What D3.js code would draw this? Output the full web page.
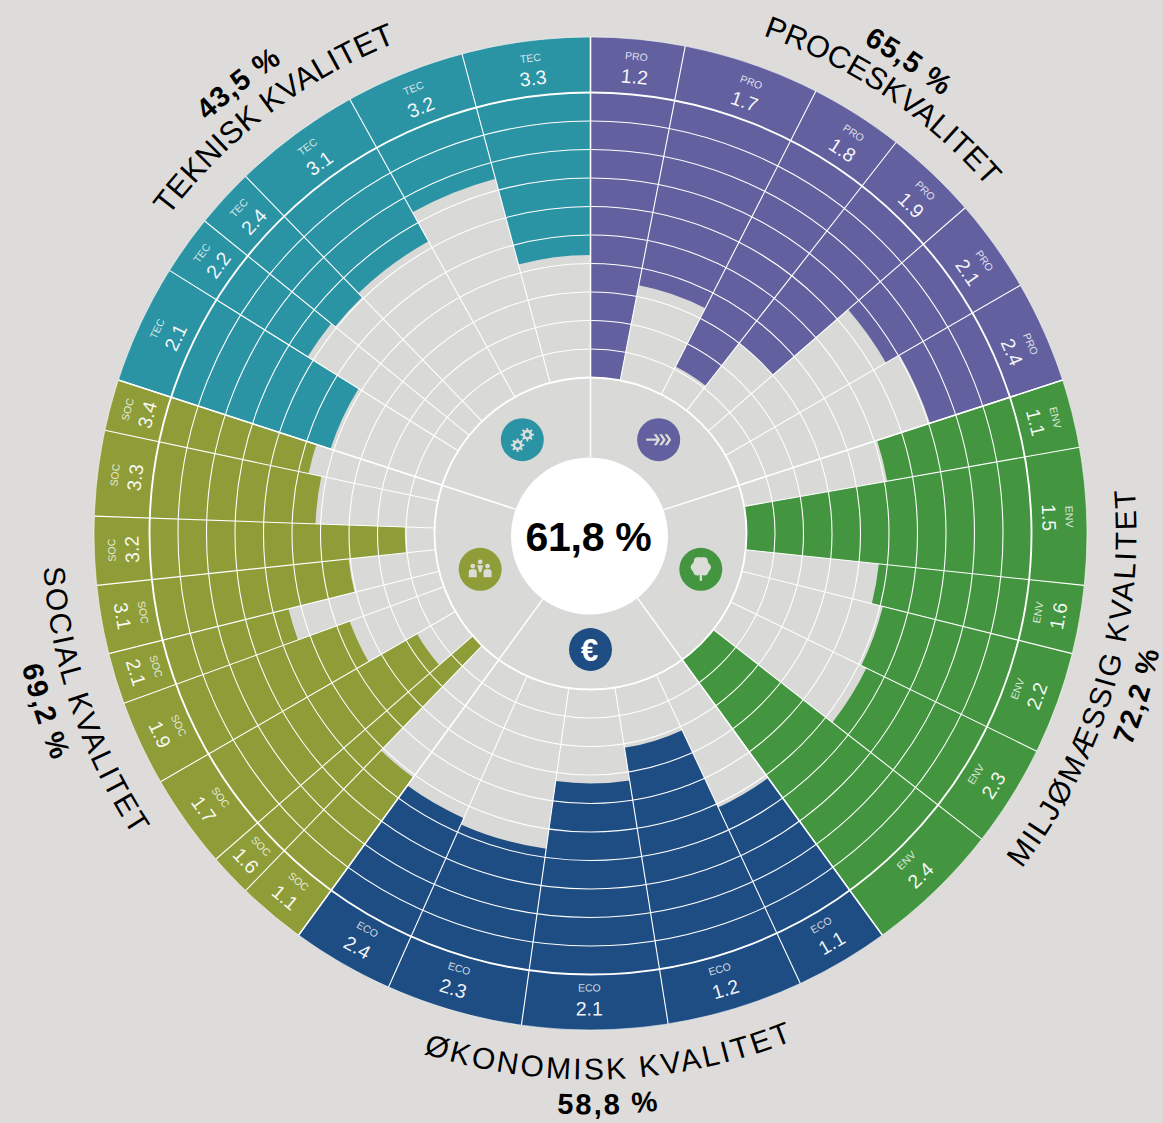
<!DOCTYPE html>
<html><head><meta charset="utf-8">
<script src="https://cdn.jsdelivr.net/npm/d3@7"></script>
<style>html,body{margin:0;padding:0;background:#dddcda;overflow:hidden}svg{display:block}text{font-family:"Liberation Sans",Arial,sans-serif}</style>
</head><body><svg id="c" width="1163" height="1123"></svg>
<script>
// ---------- data ----------
const sectorNames  = ["PROCESKVALITET","MILJØMÆSSIG KVALITET","ØKONOMISK KVALITET","SOCIAL KVALITET","TEKNISK KVALITET"];
const sectorScores = ["65,5 %","72,2 %","58,8 %","69,2 %","43,5 %"];
const totalScore   = "61,8 %";
const sectorCodes  = ["PRO","ENV","ECO","SOC","TEC"];

const proCriteria = ["1.2","1.7","1.8","1.9","2.1","2.4"];
const proValues   = [100,66,89,70,35,29.5];
const proWeights  = [11,16,11,11,11,12];

const envCriteria = ["1.1","1.5","1.6","2.2","2.3","2.4"];
const envValues   = [49,100,53,49,47,100];
const envWeights  = [8,16,8,12,12,16];

const ecoCriteria = ["1.1","1.2","2.1","2.3","2.4"];
const ecoValues   = [48.7,78.6,67,43,45.4];
const ecoWeights  = [11,16,17,16,12];

const socCriteria = ["1.1","1.6","1.7","1.9","2.1","3.1","3.2","3.3","3.4"];
const socValues   = [48.9,100,84.4,64.8,45.5,69.4,89.6,58.2,53.6];
const socWeights  = [8,5,11,10,6,8,8,10,6];

const tecCriteria = ["2.1","2.2","2.4","3.1","3.2","3.3"];
const tecValues   = [58.8,37.7,39.4,37.5,25.9,57];
const tecWeights  = [14,7,7,15,14,15];

const ringTicks = [0,10,20,30,40,50,60,70,80,90,100];

// ---------- layout / style ----------
const palette = ["#62609f","#43963f","#1e4d84","#8e9d37","#2b94a4"];
const criteria = [proCriteria,envCriteria,ecoCriteria,socCriteria,tecCriteria];
const values   = [proValues,envValues,ecoValues,socValues,tecValues];
const weights  = [proWeights,envWeights,ecoWeights,socWeights,tecWeights];
const cx=590.5, cy=533.5, rOuter=496.5, rFull=441, rZero=156, rCore=78.5;
const toRad = Math.PI/180;

const rScale = d3.scaleLinear().domain([0,100]).range([rFull,rZero]);
const totalWeight = d3.sum(weights,w=>d3.sum(w));
const aScale = d3.scaleLinear().domain([0,totalWeight]).range([0,2*Math.PI]);

let cum=0; const segs=[]; const sectorSpans=[];
weights.forEach((ws,s)=>{
  const start=cum;
  ws.forEach((w,i)=>{
    segs.push({s,i,code:sectorCodes[s],label:criteria[s][i],value:values[s][i],a0:aScale(cum),a1:aScale(cum+w)});
    cum+=w;
  });
  sectorSpans.push({a0:aScale(start),a1:aScale(cum)});
});

const svg=d3.select("#c");
svg.append("rect").attr("width",1163).attr("height",1123).attr("fill","#dddcda");
const g=svg.append("g").attr("transform",`translate(${cx},${cy})`);
const defs=svg.append("defs");
const arc=d3.arc();

g.append("circle").attr("r",rFull).attr("fill","#d9d9d7");

g.selectAll("path.bar").data(segs).join("path").attr("class","bar")
  .attr("d",d=>arc({innerRadius:rScale(d.value),outerRadius:rFull,startAngle:d.a0,endAngle:d.a1}))
  .attr("fill",d=>palette[d.s]);
g.selectAll("path.band").data(segs).join("path").attr("class","band")
  .attr("d",d=>arc({innerRadius:rFull,outerRadius:rOuter,startAngle:d.a0,endAngle:d.a1}))
  .attr("fill",d=>palette[d.s]);

g.selectAll("circle.ring").data(ringTicks).join("circle").attr("class","ring")
  .attr("r",d=>rScale(d)).attr("fill","none").attr("stroke","#fff")
  .attr("stroke-width",d=>(d===0||d===100)?1.9:1.1);
g.append("circle").attr("r",rOuter).attr("fill","none").attr("stroke","#fff").attr("stroke-width",0.7).attr("stroke-opacity",0.8);

const px=(a,r)=>r*Math.sin(a), py=(a,r)=>-r*Math.cos(a);
g.selectAll("line.spoke").data(segs).join("line").attr("class","spoke")
  .attr("x1",d=>px(d.a0,rZero)).attr("y1",d=>py(d.a0,rZero))
  .attr("x2",d=>px(d.a0,rOuter)).attr("y2",d=>py(d.a0,rOuter))
  .attr("stroke","#fff").attr("stroke-width",1.1);
g.selectAll("line.main").data(sectorSpans).join("line").attr("class","main")
  .attr("x1",d=>px(d.a0,rCore-2)).attr("y1",d=>py(d.a0,rCore-2))
  .attr("x2",d=>px(d.a0,rOuter)).attr("y2",d=>py(d.a0,rOuter))
  .attr("stroke","#fff").attr("stroke-width",1.5);

g.append("circle").attr("cx",-1).attr("cy",2.5).attr("r",rCore).attr("fill","#fff");
g.append("text").attr("x",-2).attr("y",17).attr("text-anchor","middle").attr("letter-spacing",-0.3)
  .attr("font-size",41).attr("font-weight","bold").attr("fill","#000").text(totalScore);

// segment labels: small angular corrections per label
const labelNudge=[[0,0.6,0.8,0.8,0.8,0.7],[0,0,0,0,0,0],[0,0.5,0.65,0.8,-0.6],[0,0,0,0,0,0,0,0,0],[0.3,0.3,0.3,0.3,0.3,0.3]];
const labelG=g.selectAll("g.seg").data(segs).join("g").attr("class","seg")
  .attr("transform",d=>`rotate(${(d.a0+d.a1)/2/toRad+labelNudge[d.s][d.i]})`);
function flip(d){const deg=(d.a0+d.a1)/2/toRad;return deg>90&&deg<265;}
labelG.append("text").attr("text-anchor","middle").attr("fill","#fff").attr("fill-opacity",.8).attr("font-size",10.5)
  .attr("transform",d=>flip(d)?`translate(0,${-458}) rotate(180)`:`translate(0,${-475.5})`)
  .text(d=>d.code);
labelG.append("text").attr("text-anchor","middle").attr("fill","#fff").attr("fill-opacity",.95).attr("font-size",19.5)
  .attr("transform",d=>flip(d)?`translate(0,${-482}) rotate(180)`:`translate(0,${-452})`)
  .text(d=>d.label);

// curved titles
const titleSpec=[
 {off:-2,  offS:-2,  rT:527,rS:561,cw:true, fT:30.6,lsT:0.2,lsS:1},
 {off:-1.5,offS:-1.5,rT:546,rS:581,cw:false,fT:30,  lsT:2.2,lsS:1.8},
 {off:-2.1,offS:-1.8,rT:546,rS:581,cw:false,fT:30,  lsT:2.6,lsS:2.2},
 {off:-0.6,offS:-0.1,rT:548,rS:584,cw:false,fT:30,  lsT:2.1,lsS:1.8},
 {off:-1.3,offS:-2,  rT:528,rS:563,cw:true, fT:31,  lsT:0.3,lsS:1}
];
function addCurved(id,str,mid,r,cw,fs,weight,ls){
  const a=mid-Math.PI/2, span=100*toRad, p=d3.path();
  if(cw) p.arc(0,0,r,a-span,a+span,false); else p.arc(0,0,r,a+span,a-span,true);
  defs.append("path").attr("id",id).attr("d",p.toString());
  g.append("text").attr("font-size",fs).attr("font-weight",weight).attr("fill","#000").attr("letter-spacing",ls)
   .append("textPath").attr("href","#"+id).attr("startOffset","50%").attr("text-anchor","middle").text(str);
}
sectorSpans.forEach((sp,i)=>{
  const t=titleSpec[i], m=(sp.a0+sp.a1)/2;
  addCurved("tp"+i,sectorNames[i],m+t.off*toRad,t.rT,t.cw,t.fT,"normal",t.lsT);
  addCurved("sp"+i,sectorScores[i],m+t.offS*toRad,t.rS,t.cw,29,"bold",t.lsS);
});

// icons
const iconG=g.selectAll("g.icon").data(sectorSpans).join("g").attr("class","icon")
  .attr("transform",d=>{const m=(d.a0+d.a1)/2;return `translate(${px(m,116)},${py(m,116)})`;});
iconG.append("circle").attr("r",21.5).attr("fill",(d,i)=>palette[i]);
const ink="#dcdcd8";
function gear(sel,x,y,r,bg){
  const n=8, pts=[];
  for(let k=0;k<n;k++){
    const a=k/n*2*Math.PI, w=.2;
    pts.push([a-w,r*.72],[a-w*.6,r],[a+w*.6,r],[a+w,r*.72]);
  }
  sel.append("path").attr("transform",`translate(${x},${y})`)
    .attr("d",d3.lineRadial().curve(d3.curveLinearClosed)(pts)).attr("fill",ink);
  sel.append("circle").attr("cx",x).attr("cy",y).attr("r",r*.33).attr("fill",bg);
}
const a0=iconG.filter((d,i)=>i===0);
a0.append("path").attr("d","M-12.5,0H-1.5").attr("fill","none").attr("stroke",ink).attr("stroke-width",2.2);
[-5,0.5,6].forEach(x=>a0.append("path").attr("d",`M${x},-5.5H${x+2.8}L${x+6.5},0L${x+2.8},5.5H${x}L${x+3.7},0Z`).attr("fill",ink));
const a1=iconG.filter((d,i)=>i===1);
a1.append("rect").attr("x",-1.2).attr("y",0).attr("width",2.4).attr("height",11.5).attr("fill",ink);
[[0,-4,8],[-5.5,-2,4.6],[5.5,-2,4.6],[-3.5,2,4.2],[3.5,2,4.2],[-3,-8,4],[3,-8,4]].forEach(c=>
  a1.append("circle").attr("cx",c[0]).attr("cy",c[1]).attr("r",c[2]).attr("fill",ink));
iconG.filter((d,i)=>i===2).append("text").attr("text-anchor","middle").attr("y",11).attr("x",-1).attr("font-size",31)
  .attr("font-weight","bold").attr("fill","#fff").text("€");
const a3=iconG.filter((d,i)=>i===3);
[[-7.4,-3.3],[7.4,-3.3]].forEach(c=>{
  a3.append("circle").attr("cx",c[0]).attr("cy",c[1]).attr("r",2.4).attr("fill",ink);
  a3.append("path").attr("d",`M${c[0]-4},8V3Q${c[0]-4},0 ${c[0]-1.5},0H${c[0]+1.5}Q${c[0]+4},0 ${c[0]+4},3V8Z`).attr("fill",ink);
});
a3.append("circle").attr("cx",0).attr("cy",-7.5).attr("r",2.4).attr("fill",ink);
a3.append("path").attr("d","M-3,-4H3L1,3H-1Z").attr("fill",ink);
const a4=iconG.filter((d,i)=>i===4);
gear(a4,5,-5,6.8,palette[4]);
gear(a4,-4.7,5.5,6.8,palette[4]);
</script></body></html>
